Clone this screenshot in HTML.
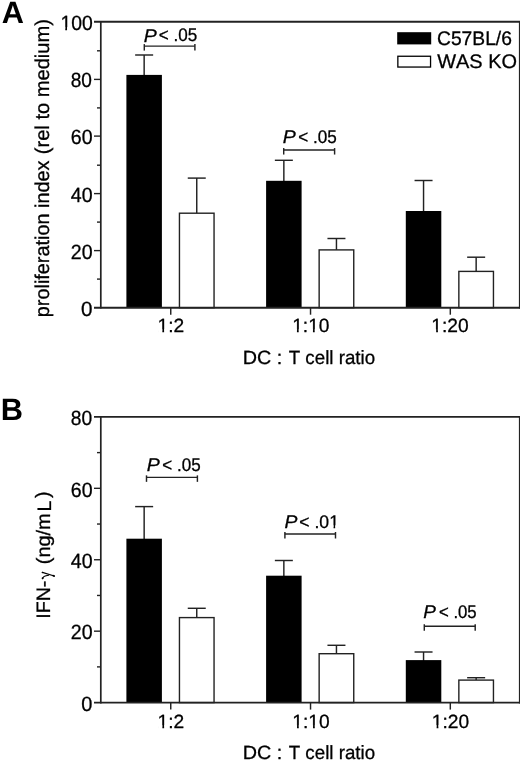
<!DOCTYPE html>
<html><head><meta charset="utf-8"><title>Figure</title><style>
html,body{margin:0;padding:0;background:#fff;}
svg{display:block;font-family:"Liberation Sans", sans-serif;font-kerning:none;will-change:transform;text-rendering:geometricPrecision;}
text{fill:#000;stroke:#000;stroke-width:0.3px;}
</style></head><body>
<svg width="520" height="760" viewBox="0 0 520 760">
<rect x="0" y="0" width="520" height="760" fill="#fff"/>
<line x1="144.15" y1="55.00" x2="144.15" y2="75.90" stroke="#222" stroke-width="1.45"/>
<line x1="135.15" y1="55.00" x2="153.15" y2="55.00" stroke="#222" stroke-width="1.45"/>
<rect x="126.40" y="74.90" width="35.50" height="232.80" fill="#000"/>
<line x1="196.75" y1="178.10" x2="196.75" y2="213.20" stroke="#222" stroke-width="1.45"/>
<line x1="187.75" y1="178.10" x2="205.75" y2="178.10" stroke="#222" stroke-width="1.45"/>
<rect x="179.45" y="213.20" width="34.60" height="94.50" fill="#fff" stroke="#222" stroke-width="1.4"/>
<line x1="170.75" y1="307.70" x2="170.75" y2="314.70" stroke="#222" stroke-width="1.45"/>
<line x1="283.85" y1="160.30" x2="283.85" y2="181.80" stroke="#222" stroke-width="1.45"/>
<line x1="274.85" y1="160.30" x2="292.85" y2="160.30" stroke="#222" stroke-width="1.45"/>
<rect x="266.10" y="180.80" width="35.50" height="126.90" fill="#000"/>
<line x1="336.45" y1="238.50" x2="336.45" y2="249.90" stroke="#222" stroke-width="1.45"/>
<line x1="327.45" y1="238.50" x2="345.45" y2="238.50" stroke="#222" stroke-width="1.45"/>
<rect x="319.15" y="249.90" width="34.60" height="57.80" fill="#fff" stroke="#222" stroke-width="1.4"/>
<line x1="310.53" y1="307.70" x2="310.53" y2="314.70" stroke="#222" stroke-width="1.45"/>
<line x1="423.55" y1="180.50" x2="423.55" y2="212.00" stroke="#222" stroke-width="1.45"/>
<line x1="414.55" y1="180.50" x2="432.55" y2="180.50" stroke="#222" stroke-width="1.45"/>
<rect x="405.80" y="211.00" width="35.50" height="96.70" fill="#000"/>
<line x1="476.15" y1="257.20" x2="476.15" y2="271.40" stroke="#222" stroke-width="1.45"/>
<line x1="467.15" y1="257.20" x2="485.15" y2="257.20" stroke="#222" stroke-width="1.45"/>
<rect x="458.85" y="271.40" width="34.60" height="36.30" fill="#fff" stroke="#222" stroke-width="1.4"/>
<line x1="450.31" y1="307.70" x2="450.31" y2="314.70" stroke="#222" stroke-width="1.45"/>
<line x1="94.00" y1="21.80" x2="520.25" y2="21.80" stroke="#222" stroke-width="1.9"/>
<line x1="94.00" y1="307.70" x2="520.25" y2="307.70" stroke="#222" stroke-width="1.9"/>
<line x1="100.80" y1="20.90" x2="100.80" y2="308.60" stroke="#222" stroke-width="1.7"/>
<line x1="519.60" y1="20.90" x2="519.60" y2="308.60" stroke="#222" stroke-width="1.4"/>
<text id="t_Ay0" font-size="20.600" text-anchor="end" textLength="11.48" lengthAdjust="spacingAndGlyphs" x="92.62" y="316.00">0</text>
<line x1="97.00" y1="279.10" x2="100.80" y2="279.10" stroke="#222" stroke-width="1.4"/>
<line x1="94.00" y1="250.60" x2="100.80" y2="250.60" stroke="#222" stroke-width="1.4"/>
<text id="t_Ay20" font-size="20.600" text-anchor="end" textLength="21.77" lengthAdjust="spacingAndGlyphs" x="92.60" y="259.00">20</text>
<line x1="97.00" y1="222.10" x2="100.80" y2="222.10" stroke="#222" stroke-width="1.4"/>
<line x1="94.00" y1="193.60" x2="100.80" y2="193.60" stroke="#222" stroke-width="1.4"/>
<text id="t_Ay40" font-size="20.600" text-anchor="end" textLength="21.77" lengthAdjust="spacingAndGlyphs" x="92.60" y="202.00">40</text>
<line x1="97.00" y1="165.20" x2="100.80" y2="165.20" stroke="#222" stroke-width="1.4"/>
<line x1="94.00" y1="136.10" x2="100.80" y2="136.10" stroke="#222" stroke-width="1.4"/>
<text id="t_Ay60" font-size="20.600" text-anchor="end" textLength="21.77" lengthAdjust="spacingAndGlyphs" x="92.60" y="144.00">60</text>
<line x1="97.00" y1="107.90" x2="100.80" y2="107.90" stroke="#222" stroke-width="1.4"/>
<line x1="94.00" y1="79.40" x2="100.80" y2="79.40" stroke="#222" stroke-width="1.4"/>
<text id="t_Ay80" font-size="20.600" text-anchor="end" textLength="21.24" lengthAdjust="spacingAndGlyphs" x="91.99" y="87.00">80</text>
<line x1="97.00" y1="50.80" x2="100.80" y2="50.80" stroke="#222" stroke-width="1.4"/>
<text id="t_Ay100" font-size="20.600" text-anchor="end" textLength="32.31" lengthAdjust="spacingAndGlyphs" x="92.74" y="30.00">100</text>
<text id="t_Ax0" font-size="19.200" text-anchor="middle" x="170.89" y="332.00">1:2</text>
<text id="t_Ax1" font-size="19.200" text-anchor="middle" x="310.82" y="332.00">1:10</text>
<text id="t_Ax2" font-size="19.200" text-anchor="middle" x="450.04" y="332.00">1:20</text>
<line x1="144.30" y1="46.10" x2="194.90" y2="46.10" stroke="#222" stroke-width="1.45"/>
<line x1="144.30" y1="44.10" x2="144.30" y2="50.60" stroke="#222" stroke-width="1.45"/>
<line x1="194.90" y1="44.10" x2="194.90" y2="50.60" stroke="#222" stroke-width="1.45"/>
<text id="t_Ap0P" x="143.73" y="42.00" font-size="18.400" font-style="italic" textLength="13.04" lengthAdjust="spacingAndGlyphs">P</text>
<text id="t_Ap0R" x="158.85" y="41.00" font-size="18.200" textLength="38.45" lengthAdjust="spacingAndGlyphs">&lt; .05</text>
<line x1="283.70" y1="150.05" x2="334.60" y2="150.05" stroke="#222" stroke-width="1.45"/>
<line x1="283.70" y1="148.05" x2="283.70" y2="154.55" stroke="#222" stroke-width="1.45"/>
<line x1="334.60" y1="148.05" x2="334.60" y2="154.55" stroke="#222" stroke-width="1.45"/>
<text id="t_Ap1P" x="282.83" y="143.00" font-size="18.400" font-style="italic" textLength="13.02" lengthAdjust="spacingAndGlyphs">P</text>
<text id="t_Ap1R" x="298.16" y="143.00" font-size="18.200" textLength="38.52" lengthAdjust="spacingAndGlyphs">&lt; .05</text>
<text id="t_Axt1" font-size="19.200" textLength="39.53" lengthAdjust="spacingAndGlyphs" x="242.76" y="364.00">DC :</text>
<text id="t_Axt2" font-size="19.200" textLength="86.35" lengthAdjust="spacingAndGlyphs" x="288.72" y="364.00">T cell ratio</text>
<line x1="144.15" y1="506.60" x2="144.15" y2="539.70" stroke="#222" stroke-width="1.45"/>
<line x1="135.15" y1="506.60" x2="153.15" y2="506.60" stroke="#222" stroke-width="1.45"/>
<rect x="126.40" y="538.70" width="35.50" height="163.90" fill="#000"/>
<line x1="196.75" y1="608.30" x2="196.75" y2="617.60" stroke="#222" stroke-width="1.45"/>
<line x1="187.75" y1="608.30" x2="205.75" y2="608.30" stroke="#222" stroke-width="1.45"/>
<rect x="179.45" y="617.60" width="34.60" height="85.00" fill="#fff" stroke="#222" stroke-width="1.4"/>
<line x1="170.75" y1="702.60" x2="170.75" y2="709.60" stroke="#222" stroke-width="1.45"/>
<line x1="283.85" y1="560.50" x2="283.85" y2="576.70" stroke="#222" stroke-width="1.45"/>
<line x1="274.85" y1="560.50" x2="292.85" y2="560.50" stroke="#222" stroke-width="1.45"/>
<rect x="266.10" y="575.70" width="35.50" height="126.90" fill="#000"/>
<line x1="336.45" y1="645.30" x2="336.45" y2="653.70" stroke="#222" stroke-width="1.45"/>
<line x1="327.45" y1="645.30" x2="345.45" y2="645.30" stroke="#222" stroke-width="1.45"/>
<rect x="319.15" y="653.70" width="34.60" height="48.90" fill="#fff" stroke="#222" stroke-width="1.4"/>
<line x1="310.53" y1="702.60" x2="310.53" y2="709.60" stroke="#222" stroke-width="1.45"/>
<line x1="423.55" y1="652.00" x2="423.55" y2="661.10" stroke="#222" stroke-width="1.45"/>
<line x1="414.55" y1="652.00" x2="432.55" y2="652.00" stroke="#222" stroke-width="1.45"/>
<rect x="405.80" y="660.10" width="35.50" height="42.50" fill="#000"/>
<line x1="476.15" y1="677.70" x2="476.15" y2="680.10" stroke="#222" stroke-width="1.45"/>
<line x1="467.15" y1="677.70" x2="485.15" y2="677.70" stroke="#222" stroke-width="1.45"/>
<rect x="458.85" y="680.10" width="34.60" height="22.50" fill="#fff" stroke="#222" stroke-width="1.4"/>
<line x1="450.31" y1="702.60" x2="450.31" y2="709.60" stroke="#222" stroke-width="1.45"/>
<line x1="94.00" y1="416.90" x2="520.25" y2="416.90" stroke="#222" stroke-width="1.9"/>
<line x1="94.00" y1="702.60" x2="520.25" y2="702.60" stroke="#222" stroke-width="1.9"/>
<line x1="100.80" y1="416.00" x2="100.80" y2="703.50" stroke="#222" stroke-width="1.7"/>
<line x1="519.60" y1="416.00" x2="519.60" y2="703.50" stroke="#222" stroke-width="1.4"/>
<text id="t_By0" font-size="20.600" text-anchor="end" textLength="11.12" lengthAdjust="spacingAndGlyphs" x="92.42" y="711.00">0</text>
<line x1="97.00" y1="666.89" x2="100.80" y2="666.89" stroke="#222" stroke-width="1.4"/>
<line x1="94.00" y1="631.17" x2="100.80" y2="631.17" stroke="#222" stroke-width="1.4"/>
<text id="t_By20" font-size="20.600" text-anchor="end" textLength="21.77" lengthAdjust="spacingAndGlyphs" x="92.60" y="639.00">20</text>
<line x1="97.00" y1="595.46" x2="100.80" y2="595.46" stroke="#222" stroke-width="1.4"/>
<line x1="94.00" y1="559.75" x2="100.80" y2="559.75" stroke="#222" stroke-width="1.4"/>
<text id="t_By40" font-size="20.600" text-anchor="end" textLength="21.77" lengthAdjust="spacingAndGlyphs" x="92.60" y="568.00">40</text>
<line x1="97.00" y1="524.04" x2="100.80" y2="524.04" stroke="#222" stroke-width="1.4"/>
<line x1="94.00" y1="488.32" x2="100.80" y2="488.32" stroke="#222" stroke-width="1.4"/>
<text id="t_By60" font-size="20.600" text-anchor="end" textLength="21.77" lengthAdjust="spacingAndGlyphs" x="92.60" y="497.00">60</text>
<line x1="97.00" y1="452.61" x2="100.80" y2="452.61" stroke="#222" stroke-width="1.4"/>
<text id="t_By80" font-size="20.600" text-anchor="end" textLength="21.37" lengthAdjust="spacingAndGlyphs" x="92.14" y="425.00">80</text>
<text id="t_Bx0" font-size="19.200" text-anchor="middle" x="170.91" y="728.00">1:2</text>
<text id="t_Bx1" font-size="19.200" text-anchor="middle" x="310.90" y="728.00">1:10</text>
<text id="t_Bx2" font-size="19.200" text-anchor="middle" x="450.50" y="728.00">1:20</text>
<line x1="146.50" y1="477.35" x2="197.40" y2="477.35" stroke="#222" stroke-width="1.45"/>
<line x1="146.50" y1="475.35" x2="146.50" y2="481.85" stroke="#222" stroke-width="1.45"/>
<line x1="197.40" y1="475.35" x2="197.40" y2="481.85" stroke="#222" stroke-width="1.45"/>
<text id="t_Bp0P" x="146.83" y="471.00" font-size="18.400" font-style="italic" textLength="13.02" lengthAdjust="spacingAndGlyphs">P</text>
<text id="t_Bp0R" x="162.36" y="471.00" font-size="18.200" textLength="38.33" lengthAdjust="spacingAndGlyphs">&lt; .05</text>
<line x1="284.90" y1="534.00" x2="335.50" y2="534.00" stroke="#222" stroke-width="1.45"/>
<line x1="284.90" y1="532.00" x2="284.90" y2="538.50" stroke="#222" stroke-width="1.45"/>
<line x1="335.50" y1="532.00" x2="335.50" y2="538.50" stroke="#222" stroke-width="1.45"/>
<text id="t_Bp1P" x="284.57" y="528.00" font-size="18.400" font-style="italic" textLength="12.93" lengthAdjust="spacingAndGlyphs">P</text>
<text id="t_Bp1R" x="299.34" y="528.00" font-size="18.200" textLength="39.60" lengthAdjust="spacingAndGlyphs">&lt; .01</text>
<line x1="424.30" y1="626.25" x2="475.20" y2="626.25" stroke="#222" stroke-width="1.45"/>
<line x1="424.30" y1="624.25" x2="424.30" y2="630.75" stroke="#222" stroke-width="1.45"/>
<line x1="475.20" y1="624.25" x2="475.20" y2="630.75" stroke="#222" stroke-width="1.45"/>
<text id="t_Bp2P" x="423.18" y="618.00" font-size="18.400" font-style="italic" textLength="12.65" lengthAdjust="spacingAndGlyphs">P</text>
<text id="t_Bp2R" x="438.94" y="618.00" font-size="18.200" textLength="37.74" lengthAdjust="spacingAndGlyphs">&lt; .05</text>
<text id="t_Bxt1" font-size="19.200" textLength="39.53" lengthAdjust="spacingAndGlyphs" x="242.76" y="759.00">DC :</text>
<text id="t_Bxt2" font-size="19.200" textLength="86.35" lengthAdjust="spacingAndGlyphs" x="288.72" y="759.00">T cell ratio</text>
<text id="t_A" font-size="30.722" font-weight="bold" style="stroke-width:0" x="1.65" y="23.00">A</text>
<text id="t_B" font-size="30.800" font-weight="bold" style="stroke-width:0" x="0.70" y="420.00">B</text>
<text id="t_Ayt1" font-size="20.000" textLength="156.71" lengthAdjust="spacingAndGlyphs" transform="translate(48.98,317.22) rotate(-90)">proliferation index</text>
<text id="t_Ayt2" font-size="20.000" textLength="135.08" lengthAdjust="spacingAndGlyphs" transform="translate(49.04,154.18) rotate(-90)">(rel to medium)</text>
<text id="t_Byt1" font-size="19.400" textLength="38.23" lengthAdjust="spacingAndGlyphs" transform="translate(49.73,618.80) rotate(-90)">IFN-</text>
<g fill="#000" stroke="#000" stroke-linecap="round"><path d="M42.4,572.4 L54.2,576.0" stroke-width="1.25" fill="none"/><path d="M42.6,578.6 C42.8,576.9 44.6,575.7 48.6,575.2" stroke-width="1.1" fill="none"/><ellipse cx="53.6" cy="575.8" rx="1.5" ry="0.9" stroke="none" transform="rotate(17 53.6 575.8)"/><circle cx="42.6" cy="578.3" r="0.95" stroke="none"/><circle cx="42.5" cy="572.5" r="0.8" stroke="none"/></g>
<text id="t_Byt3" font-size="19.400" textLength="50.97" lengthAdjust="spacingAndGlyphs" transform="translate(50.35,564.24) rotate(-90)">(ng/m</text>
<text id="t_Byt4" font-size="19.400" transform="translate(51.04,511.51) rotate(-90)">L</text>
<text id="t_Byt5" font-size="19.400" transform="translate(49.14,498.10) rotate(-90)">)</text>
<rect x="397.20" y="32.20" width="34.00" height="12.20" fill="#000"/>
<rect x="397.85" y="56.25" width="32.70" height="10.80" fill="#fff" stroke="#000" stroke-width="1.3"/>
<text id="t_leg1" font-size="19.600" textLength="74.92" lengthAdjust="spacingAndGlyphs" x="437.00" y="45.00">C57BL/6</text>
<text id="t_leg2" font-size="19.600" textLength="79.79" lengthAdjust="spacingAndGlyphs" x="437.16" y="68.00">WAS KO</text>
<rect class="f_Ay100" x="60.99" y="27.16" width="4.27" height="4.14" fill="#fff"/>
<rect class="f_Ay100" x="67.04" y="27.16" width="4.17" height="4.14" fill="#fff"/>
<rect class="f_Ax0" x="158.11" y="329.27" width="4.24" height="4.03" fill="#fff"/>
<rect class="f_Ax0" x="164.10" y="329.27" width="4.13" height="4.03" fill="#fff"/>
<rect class="f_Ax1" x="292.70" y="329.27" width="4.24" height="4.03" fill="#fff"/>
<rect class="f_Ax1" x="298.69" y="329.27" width="4.13" height="4.03" fill="#fff"/>
<rect class="f_Ax1" x="308.71" y="329.27" width="4.24" height="4.03" fill="#fff"/>
<rect class="f_Ax1" x="314.70" y="329.27" width="4.13" height="4.03" fill="#fff"/>
<rect class="f_Ax2" x="431.92" y="329.27" width="4.24" height="4.03" fill="#fff"/>
<rect class="f_Ax2" x="437.91" y="329.27" width="4.13" height="4.03" fill="#fff"/>
<rect class="f_Bx0" x="158.13" y="725.27" width="4.24" height="4.03" fill="#fff"/>
<rect class="f_Bx0" x="164.12" y="725.27" width="4.13" height="4.03" fill="#fff"/>
<rect class="f_Bx1" x="292.78" y="725.27" width="4.24" height="4.03" fill="#fff"/>
<rect class="f_Bx1" x="298.77" y="725.27" width="4.13" height="4.03" fill="#fff"/>
<rect class="f_Bx1" x="308.79" y="725.27" width="4.24" height="4.03" fill="#fff"/>
<rect class="f_Bx1" x="314.78" y="725.27" width="4.13" height="4.03" fill="#fff"/>
<rect class="f_Bx2" x="432.38" y="725.27" width="4.24" height="4.03" fill="#fff"/>
<rect class="f_Bx2" x="438.37" y="725.27" width="4.13" height="4.03" fill="#fff"/>
<rect class="f_Bp1R" x="329.68" y="525.34" width="3.88" height="3.96" fill="#fff"/>
<rect class="f_Bp1R" x="335.16" y="525.34" width="3.79" height="3.96" fill="#fff"/>
</svg>
</body></html>
